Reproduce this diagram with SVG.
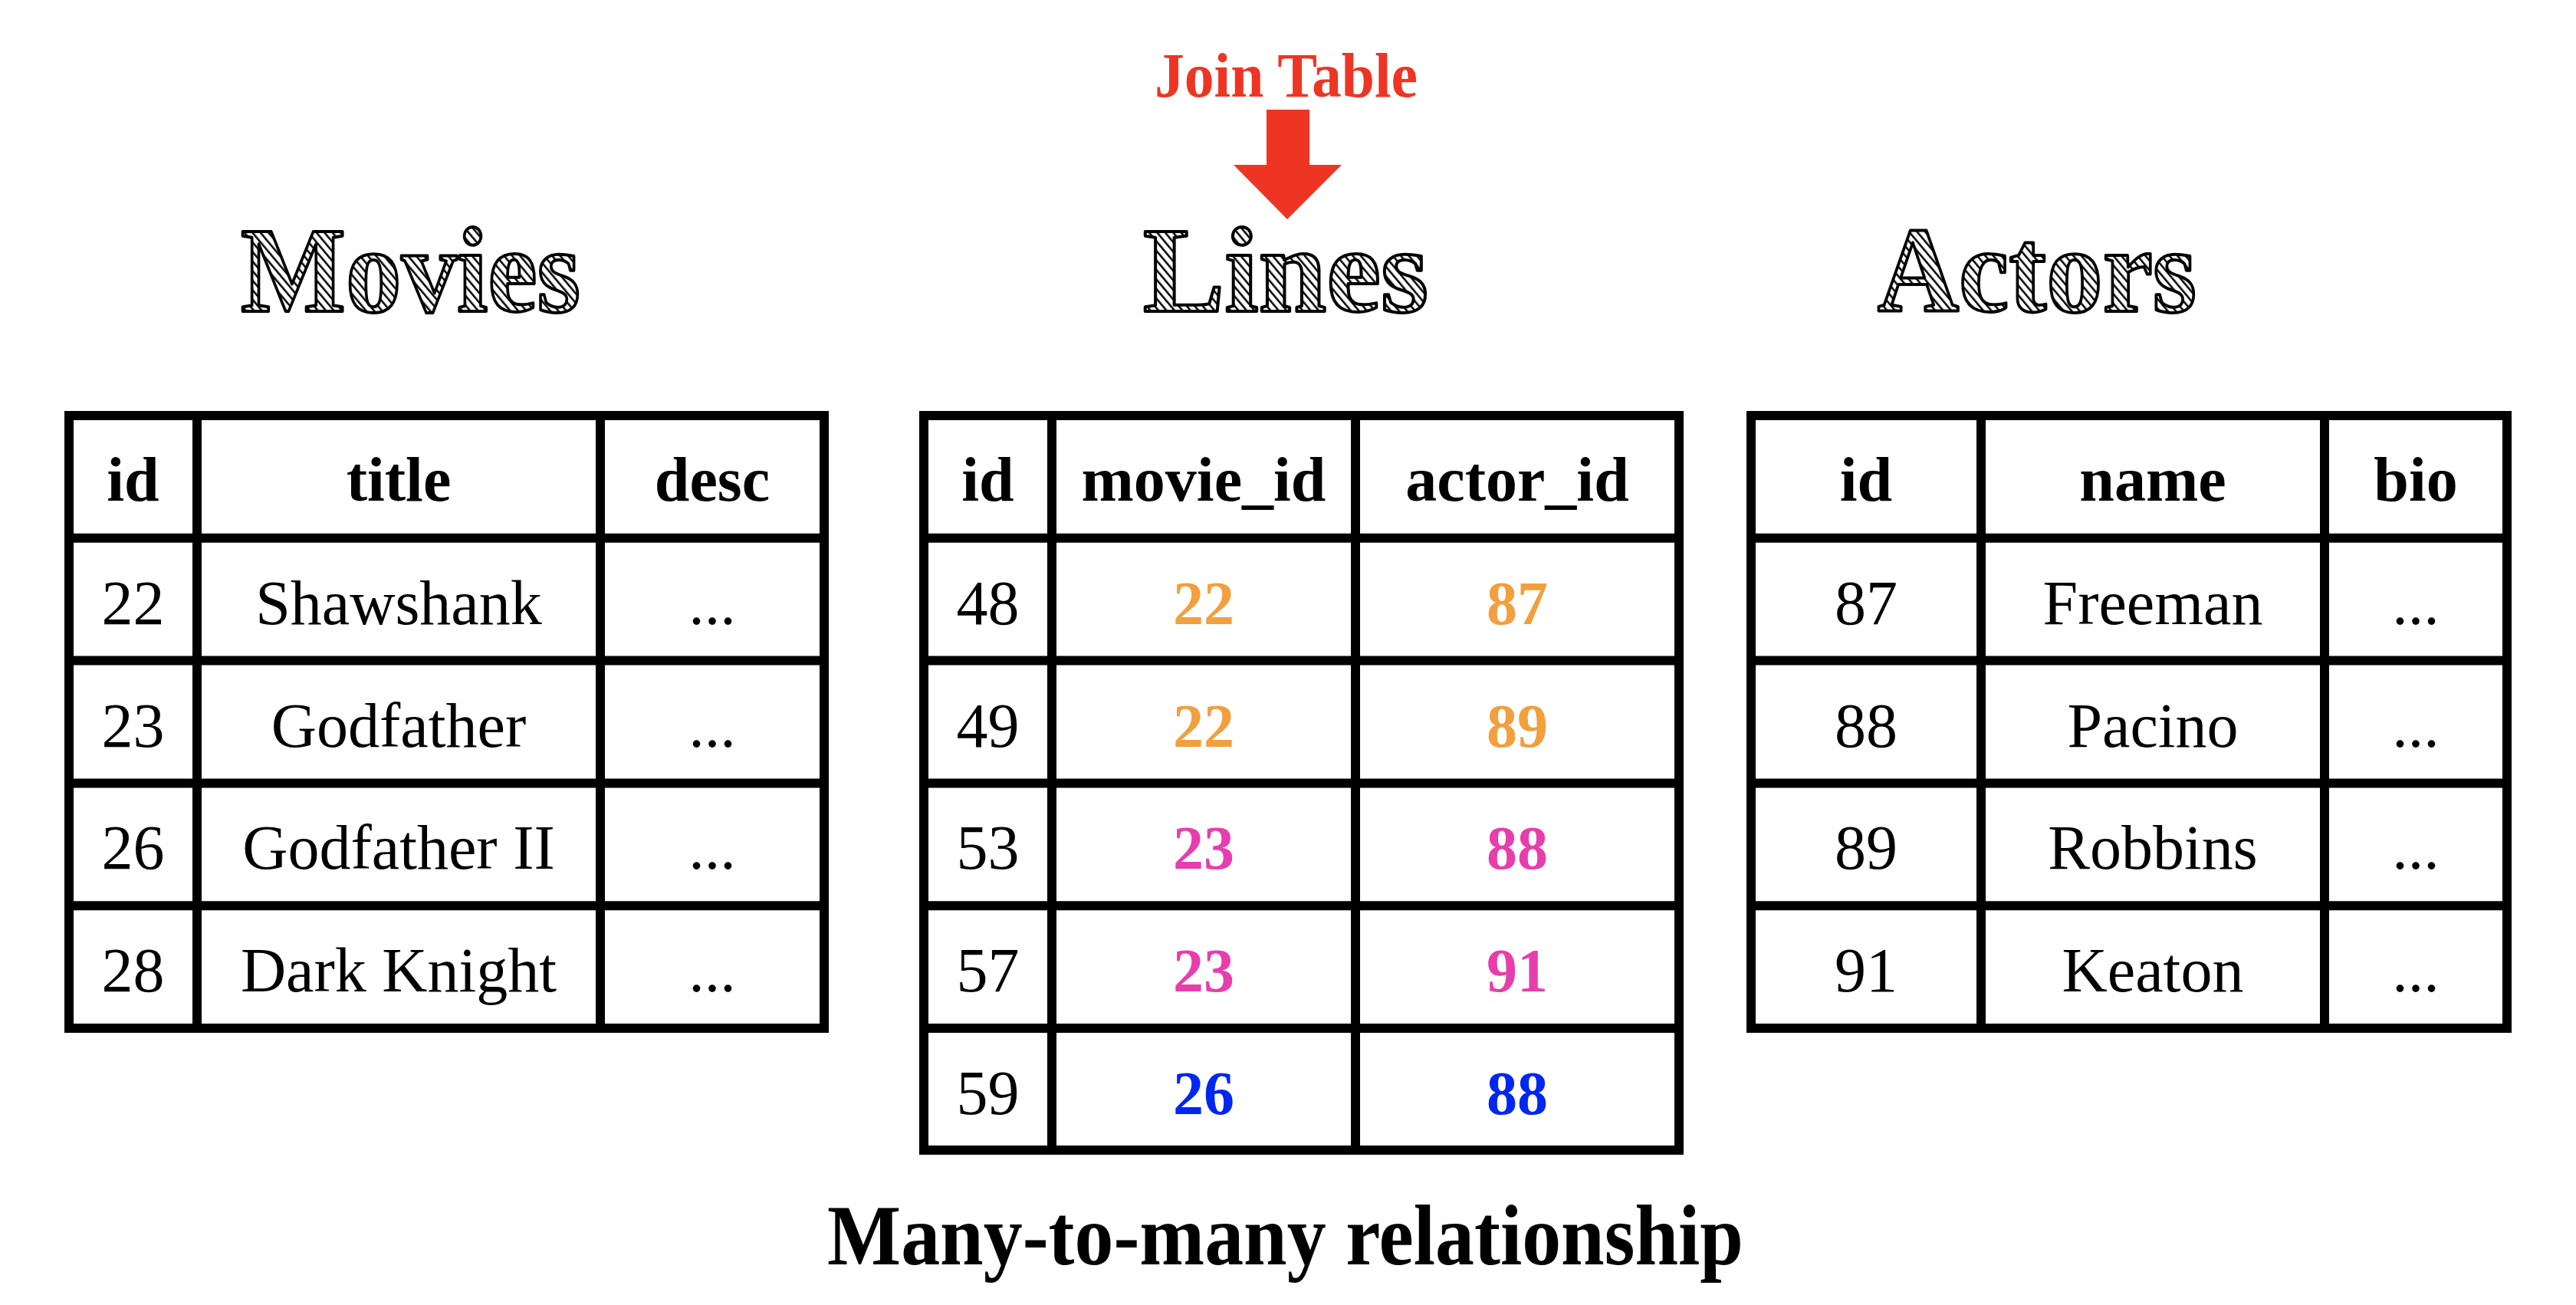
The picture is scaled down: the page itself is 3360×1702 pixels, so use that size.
<svg xmlns="http://www.w3.org/2000/svg" width="3360" height="1702" viewBox="0 0 3360 1702">
<style>
.grid{fill:none;stroke:#000;stroke-width:12;stroke-linecap:square}
.hd{font-family:"Liberation Serif","Times New Roman",serif;font-weight:bold;font-size:82px;fill:#000;text-anchor:middle}
.tx{font-family:"Liberation Serif","Times New Roman",serif;font-size:82px;fill:#000;text-anchor:middle}
.fk{font-family:"Liberation Serif","Times New Roman",serif;font-weight:bold;font-size:80px;text-anchor:middle}
.or{fill:#F29F3D}.pk{fill:#E83DAD}.bl{fill:#0026F2}
.ttl{font-family:"Liberation Serif","Times New Roman",serif;font-weight:bold;font-size:158px;fill:url(#hatch);stroke:#000;stroke-width:4;stroke-linejoin:round}
.join{font-family:"Liberation Serif","Times New Roman",serif;font-weight:bold;font-size:83px;fill:#EE3524}
.cap{font-family:"Liberation Serif","Times New Roman",serif;font-weight:bold;font-size:112px;fill:#000}
</style>
<defs>
<pattern id="hatch" patternUnits="userSpaceOnUse" width="8" height="8" patternTransform="rotate(-40)">
<rect width="8" height="8" fill="#fff"/>
<line x1="0" y1="0" x2="0" y2="8" stroke="#000" stroke-width="5"/>
</pattern>
</defs>
<rect width="3360" height="1702" fill="#fff"/>

<g id="title-movies"><text class="ttl" x="314" y="406" textLength="443" lengthAdjust="spacingAndGlyphs">Movies</text></g>
<g id="title-lines"><text class="ttl" x="1491" y="406" textLength="372" lengthAdjust="spacingAndGlyphs">Lines</text></g>
<g id="title-actors"><text class="ttl" x="2449" y="406" textLength="416" lengthAdjust="spacingAndGlyphs">Actors</text></g>
<g id="join-label"><text class="join" x="1506" y="126" textLength="343" lengthAdjust="spacingAndGlyphs">Join Table</text></g>

<g id="connectors">
<polygon points="1652,143 1708,143 1708,215 1750,215 1679,286 1609,215 1652,215" fill="#EE3524"/>
</g>

<g id="movies">
<rect class="grid" x="90" y="542" width="985" height="799"/>
<path class="grid" d="M257 542V1341M783 542V1341M90 701.8H1075M90 861.6H1075M90 1021.4H1075M90 1181.2H1075"/>
<text class="hd" x="173.5" y="653">id</text>
<text class="hd" x="520" y="653">title</text>
<text class="hd" x="929" y="653">desc</text>
<text class="tx" x="173.5" y="814">22</text><text class="tx" x="520" y="814">Shawshank</text><text class="tx" x="929" y="814">...</text>
<text class="tx" x="173.5" y="974">23</text><text class="tx" x="520" y="974">Godfather</text><text class="tx" x="929" y="974">...</text>
<text class="tx" x="173.5" y="1133">26</text><text class="tx" x="520" y="1133">Godfather II</text><text class="tx" x="929" y="1133">...</text>
<text class="tx" x="173.5" y="1293">28</text><text class="tx" x="520" y="1293">Dark Knight</text><text class="tx" x="929" y="1293">...</text>
</g>

<g id="lines">
<rect class="grid" x="1205" y="542" width="985" height="958"/>
<path class="grid" d="M1372 542V1500M1768 542V1500M1205 701.8H2190M1205 861.6H2190M1205 1021.4H2190M1205 1181.2H2190M1205 1341H2190"/>
<text class="hd" x="1288.5" y="653">id</text>
<text class="hd" x="1570" y="653">movie_id</text>
<text class="hd" x="1979" y="653">actor_id</text>
<text class="tx" x="1288.5" y="814">48</text><text class="fk or" x="1570" y="814">22</text><text class="fk or" x="1979" y="814">87</text>
<text class="tx" x="1288.5" y="974">49</text><text class="fk or" x="1570" y="974">22</text><text class="fk or" x="1979" y="974">89</text>
<text class="tx" x="1288.5" y="1133">53</text><text class="fk pk" x="1570" y="1133">23</text><text class="fk pk" x="1979" y="1133">88</text>
<text class="tx" x="1288.5" y="1293">57</text><text class="fk pk" x="1570" y="1293">23</text><text class="fk pk" x="1979" y="1293">91</text>
<text class="tx" x="1288.5" y="1453">59</text><text class="fk bl" x="1570" y="1453">26</text><text class="fk bl" x="1979" y="1453">88</text>
</g>

<g id="actors">
<rect class="grid" x="2284" y="542" width="986" height="799"/>
<path class="grid" d="M2584 542V1341M3032 542V1341M2284 701.8H3270M2284 861.6H3270M2284 1021.4H3270M2284 1181.2H3270"/>
<text class="hd" x="2434" y="653">id</text>
<text class="hd" x="2808" y="653">name</text>
<text class="hd" x="3151" y="653">bio</text>
<text class="tx" x="2434" y="814">87</text><text class="tx" x="2808" y="814">Freeman</text><text class="tx" x="3151" y="814">...</text>
<text class="tx" x="2434" y="974">88</text><text class="tx" x="2808" y="974">Pacino</text><text class="tx" x="3151" y="974">...</text>
<text class="tx" x="2434" y="1133">89</text><text class="tx" x="2808" y="1133">Robbins</text><text class="tx" x="3151" y="1133">...</text>
<text class="tx" x="2434" y="1293">91</text><text class="tx" x="2808" y="1293">Keaton</text><text class="tx" x="3151" y="1293">...</text>
</g>

<g id="caption"><text class="cap" x="1079" y="1649" textLength="1195" lengthAdjust="spacingAndGlyphs">Many-to-many relationship</text></g>
</svg>
